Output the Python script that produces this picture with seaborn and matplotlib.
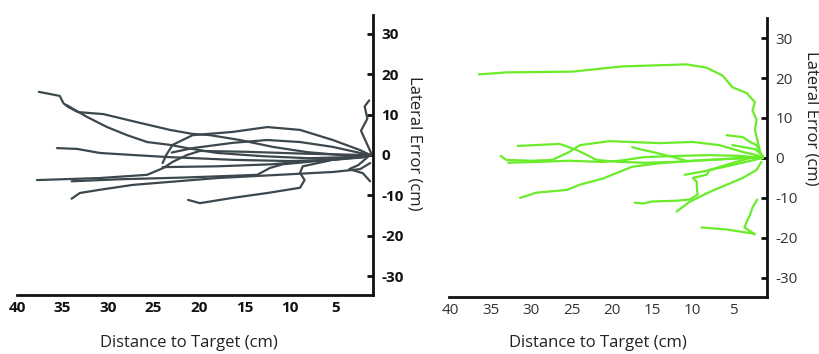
import numpy as np
import pandas as pd
import matplotlib
matplotlib.use("Agg")
import matplotlib.pyplot as plt
import seaborn as sns

# left panel (dark) trajectories: distance to target (cm), lateral error (cm)
dark_dist = [
    [37.6, 35.3, 34.9, 34.4, 33.3, 30.5, 26.8, 23.2, 20.7, 18.8, 15.5, 11.9, 8.1, 4.5, 2.0, 1.2],
    [34.6, 32.3, 30.1, 27.9, 25.7, 23.2, 21.3, 18.0, 13.0, 8.0, 3.0, 1.2],
    [24.0, 23.6, 22.9, 20.7, 16.3, 12.5, 8.9, 5.3, 2.3, 1.2],
    [23.0, 20.7, 16.3, 12.5, 8.9, 5.3, 2.3, 1.2],
    [35.6, 33.4, 30.9, 27.3, 23.5, 16.3, 10.0, 5.3, 2.0, 1.2],
    [37.8, 30.9, 25.7, 23.9, 22.9, 21.3, 19.9, 15.0, 8.0, 2.0, 1.2],
    [34.0, 28.7, 22.0, 17.0, 13.6, 12.2, 10.8, 7.0, 2.0, 1.2],
    [34.0, 33.1, 30.9, 27.3, 23.5, 18.0, 12.0, 5.3, 2.3, 1.2],
    [21.2, 19.9, 16.3, 12.5, 8.9, 8.4, 8.9, 8.6, 5.3, 1.2],
    [24.0, 18.0, 12.0, 7.0, 2.0, 1.2],
    [1.3, 1.8, 1.5, 2.2, 1.6, 1.0],
    [1.2, 2.5, 3.5, 2.0, 1.2],
]
dark_lat = [
    [15.6, 14.6, 12.8, 11.9, 10.6, 10.1, 8.1, 6.2, 5.2, 4.9, 3.7, 2.0, 0.7, 0.0, -0.5, 0.0],
    [12.4, 9.4, 6.9, 4.9, 3.2, 2.5, 1.7, 0.5, -0.3, -0.8, -0.5, 0.0],
    [-2.0, 0.0, 2.5, 4.9, 5.7, 6.9, 6.2, 3.7, 1.2, 0.0],
    [0.6, 1.7, 3.0, 3.7, 3.2, 2.0, 0.5, 0.0],
    [1.7, 1.5, 0.5, 0.0, -0.5, -1.2, -1.5, -1.2, -0.6, 0.0],
    [-6.2, -5.7, -4.9, -3.2, -1.7, 0.0, 1.0, 0.8, 0.3, 0.0, 0.0],
    [-6.5, -6.0, -5.6, -5.2, -4.9, -3.2, -2.3, -1.5, -0.5, 0.0],
    [-10.8, -9.4, -8.6, -7.4, -6.7, -5.7, -5.0, -4.2, -3.5, -2.0],
    [-11.1, -11.9, -10.6, -9.4, -8.1, -6.2, -4.4, -2.8, -1.2, 0.0],
    [-3.0, -2.8, -2.3, -1.3, -0.3, 0.0],
    [13.5, 12.0, 9.0, 6.0, 3.0, 0.0],
    [0.0, -2.5, -3.5, -4.5, -6.5],
]

# right panel (green) trajectories
green_dist = [
    [36.5, 33.1, 24.9, 18.7, 10.8, 8.3, 6.3, 5.1, 3.3, 2.3, 2.6, 2.1, 2.3, 2.0, 1.7, 1.5],
    [31.7, 26.5, 24.4, 21.9, 19.1, 16.0, 12.0, 8.0, 4.0, 1.5],
    [33.8, 33.1, 30.0, 27.4, 25.3, 24.0, 20.3, 14.1, 10.0, 6.7, 3.8, 2.1, 1.3],
    [32.9, 29.4, 25.3, 21.2, 19.1, 16.0, 12.0, 8.0, 4.0, 1.3],
    [17.5, 16.6, 15.0, 12.0, 10.8],
    [31.4, 29.4, 25.6, 24.0, 21.2, 19.1, 17.5, 14.0, 10.0, 6.0, 2.0, 1.3],
    [17.2, 16.2, 15.0, 12.0, 10.4, 9.4, 9.5, 9.5, 10.0, 8.3, 7.9, 5.8, 2.9, 1.3],
    [12.0, 10.4, 7.9, 5.8, 3.8, 2.1, 1.5],
    [8.9, 5.8, 2.6, 2.3, 3.6, 3.3, 2.9, 2.6, 2.0],
    [5.8, 3.8, 2.9, 2.1, 1.5],
    [5.1, 2.3, 1.3],
    [11.0, 9.0, 6.0, 3.0, 1.3],
]
green_lat = [
    [20.9, 21.4, 21.6, 22.9, 23.4, 22.6, 20.6, 17.7, 16.2, 13.9, 11.9, 9.5, 7.0, 4.5, 2.0, 0.3],
    [3.0, 3.5, 2.0, -0.5, -1.0, -1.2, -1.0, -0.5, 0.0, 0.0],
    [0.5, -0.5, -0.7, -0.5, 1.5, 3.2, 4.2, 3.7, 4.0, 3.2, 1.5, 0.7, 0.0],
    [-1.2, -1.0, -0.7, -1.0, -0.7, 0.2, 0.5, 0.7, 0.5, 0.0],
    [2.7, 2.2, 1.5, 0.0, -0.7],
    [-10.0, -8.7, -8.0, -6.7, -5.2, -3.5, -2.2, -1.3, -0.7, -0.3, 0.0, 0.0],
    [-11.2, -11.4, -10.9, -10.7, -10.4, -9.2, -7.5, -6.0, -5.0, -4.2, -3.0, -1.7, 0.0, 0.3],
    [-13.4, -11.0, -8.5, -6.7, -5.0, -3.0, -1.0],
    [-17.4, -17.9, -18.9, -19.1, -17.4, -15.9, -14.2, -12.4, -10.4],
    [5.7, 5.2, 4.0, 3.2, 0.5],
    [3.2, 2.2, 0.5],
    [-4.2, -3.5, -2.2, -0.8, 0.0],
]

x_ticks = [40, 35, 30, 25, 20, 15, 10, 5]
y_ticks = [-30, -20, -10, 0, 10, 20, 30]


def to_frame(dists, lats):
    rows = []
    for i, (d, l) in enumerate(zip(dists, lats)):
        for a, b in zip(d, l):
            rows.append((i, a, b))
    return pd.DataFrame(rows, columns=["trial", "dist", "lat"])


sns.set_theme(style="white")
plt.rcParams["font.family"] = ["Open Sans", "DejaVu Sans"]

fig = plt.figure(figsize=(8.2, 3.54), dpi=100)
ax1 = fig.add_axes([0.0207, 0.1667, 0.434, 0.791])
ax2 = fig.add_axes([0.5476, 0.161, 0.3878, 0.788])

panels = [
    (ax1, dark_dist, dark_lat, "#3c484e", (40, 0.9), (-34.6, 34.6), "bold", "#111111", 11),
    (ax2, green_dist, green_lat, "#6aec2a", (40.2, 0.8), (-34.8, 35.0), "normal", "#333333", 11),
]

for ax, dd, ll, col, xl, yl, weight, tcol, fs in panels:
    df = to_frame(dd, ll)
    sns.lineplot(data=df, x="dist", y="lat", units="trial", estimator=None,
                 sort=False, color=col, lw=1.6, ax=ax, legend=False)
    ax.set_xlim(*xl)
    ax.set_ylim(*yl)
    ax.set_xticks(x_ticks)
    ax.set_yticks(y_ticks)
    ax.set_xticklabels([str(t) for t in x_ticks], fontsize=fs,
                       fontweight=weight, color=tcol)
    ax.set_yticklabels([str(t) for t in y_ticks], fontsize=fs,
                       fontweight=weight, color=tcol)
    ax.yaxis.tick_right()
    ax.spines["left"].set_visible(False)
    ax.spines["top"].set_visible(False)
    for s in ["right", "bottom"]:
        ax.spines[s].set_color("#111111")
        ax.spines[s].set_linewidth(2)
    ax.tick_params(axis="both", direction="in", length=4, width=2,
                   color="#111111")
    ax.tick_params(axis="y", pad=6)
    ax.tick_params(axis="x", pad=4)
    ax.set_xlabel("")
    ax.set_ylabel("")
    ax.set_facecolor("white")

fig.text(189 / 820, 1 - 343 / 354, "Distance to Target (cm)", ha="center",
         va="center", fontsize=12, color="#222222")
fig.text(598 / 820, 1 - 343 / 354, "Distance to Target (cm)", ha="center",
         va="center", fontsize=12, color="#222222")
fig.text(415 / 820, 1 - 143 / 354, "Lateral Error (cm)", ha="center",
         va="center", rotation=270, fontsize=12, color="#222222")
fig.text(812 / 820, 1 - 118 / 354, "Lateral Error (cm)", ha="center",
         va="center", rotation=270, fontsize=12, color="#222222")

fig.savefig("out.png", dpi=100, facecolor="white")
